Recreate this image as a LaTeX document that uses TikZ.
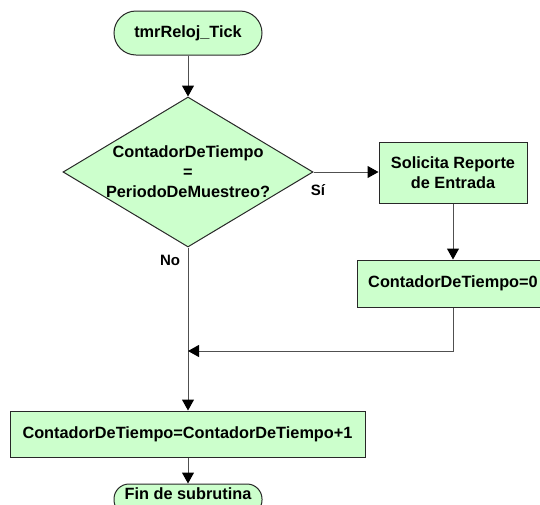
\documentclass[tikz,border=0pt]{standalone}
\usepackage{fontspec}
\setmainfont{Liberation Sans}
\usetikzlibrary{shapes.geometric,arrows.meta}
\definecolor{boxfill}{RGB}{204,255,204}
\definecolor{boxline}{RGB}{40,40,40}
\definecolor{conline}{RGB}{80,80,80}
\tikzset{
  txt/.style={font=\fontsize{16.3}{20}\selectfont\bfseries, align=center},
  terminal/.style={txt, draw=boxline, line width=1pt, fill=boxfill, rounded corners=#1, inner sep=0pt},
  procbox/.style={txt, draw=boxline, line width=1pt, fill=boxfill, inner sep=0pt},
  decision/.style={diamond, draw=boxline, line width=1pt, fill=boxfill, inner sep=0pt, minimum width=250pt, minimum height=150pt},
  conn/.style={draw=conline, line width=1pt, -{Triangle[length=11pt,width=12pt,fill=black,color=black]}},
  lbl/.style={font=\fontsize{15}{18}\selectfont\bfseries, inner sep=0pt}
}
\begin{document}
\begin{tikzpicture}[x=1pt,y=-1pt]
\useasboundingbox (0,0) rectangle (540,504);
\node[terminal=22pt, minimum width=148pt, minimum height=44pt] (start) at (188,33) {tmrReloj\_Tick};
\node[decision] (dec) at (188,172) {};
\node[txt, inner sep=0pt] (dectxt) at (dec.center) {ContadorDeTiempo\\=\\PeriodoDeMuestreo?};
\node[procbox, minimum width=148pt, minimum height=61pt] (box1) at (453,172.5) {Solicita Reporte\\de Entrada};
\node[procbox, minimum width=192pt, minimum height=47pt] (box2) at (453,283.5) {ContadorDeTiempo=0};
\node[procbox, minimum width=355pt, minimum height=46pt] (box3) at (187.5,434) {ContadorDeTiempo=ContadorDeTiempo+1};
\node[terminal=15pt, minimum width=148pt, minimum height=31pt] (fin) at (188,499.5) {};
\node[txt, inner sep=0pt] (fintxt) at (188,494) {Fin de subrutina};
\coordinate (join) at (188,351);
\node[lbl] (si) at (318,190) {Sí};
\node[lbl] (no) at (170,260) {No};
\draw[conn] (start.south) -- (dec.north);
\draw[conn] (dec.east) -- (dec.east -| box1.west);
\draw[conn] (box1.south) -- (box2.north);
\draw[conn] (dec.south) -- (dec.south |- box3.north);
\draw[conn] (box2.south) |- (join);
\draw[conn] (box3.south -| fin.north) -- (fin.north);
\end{tikzpicture}
\end{document}
